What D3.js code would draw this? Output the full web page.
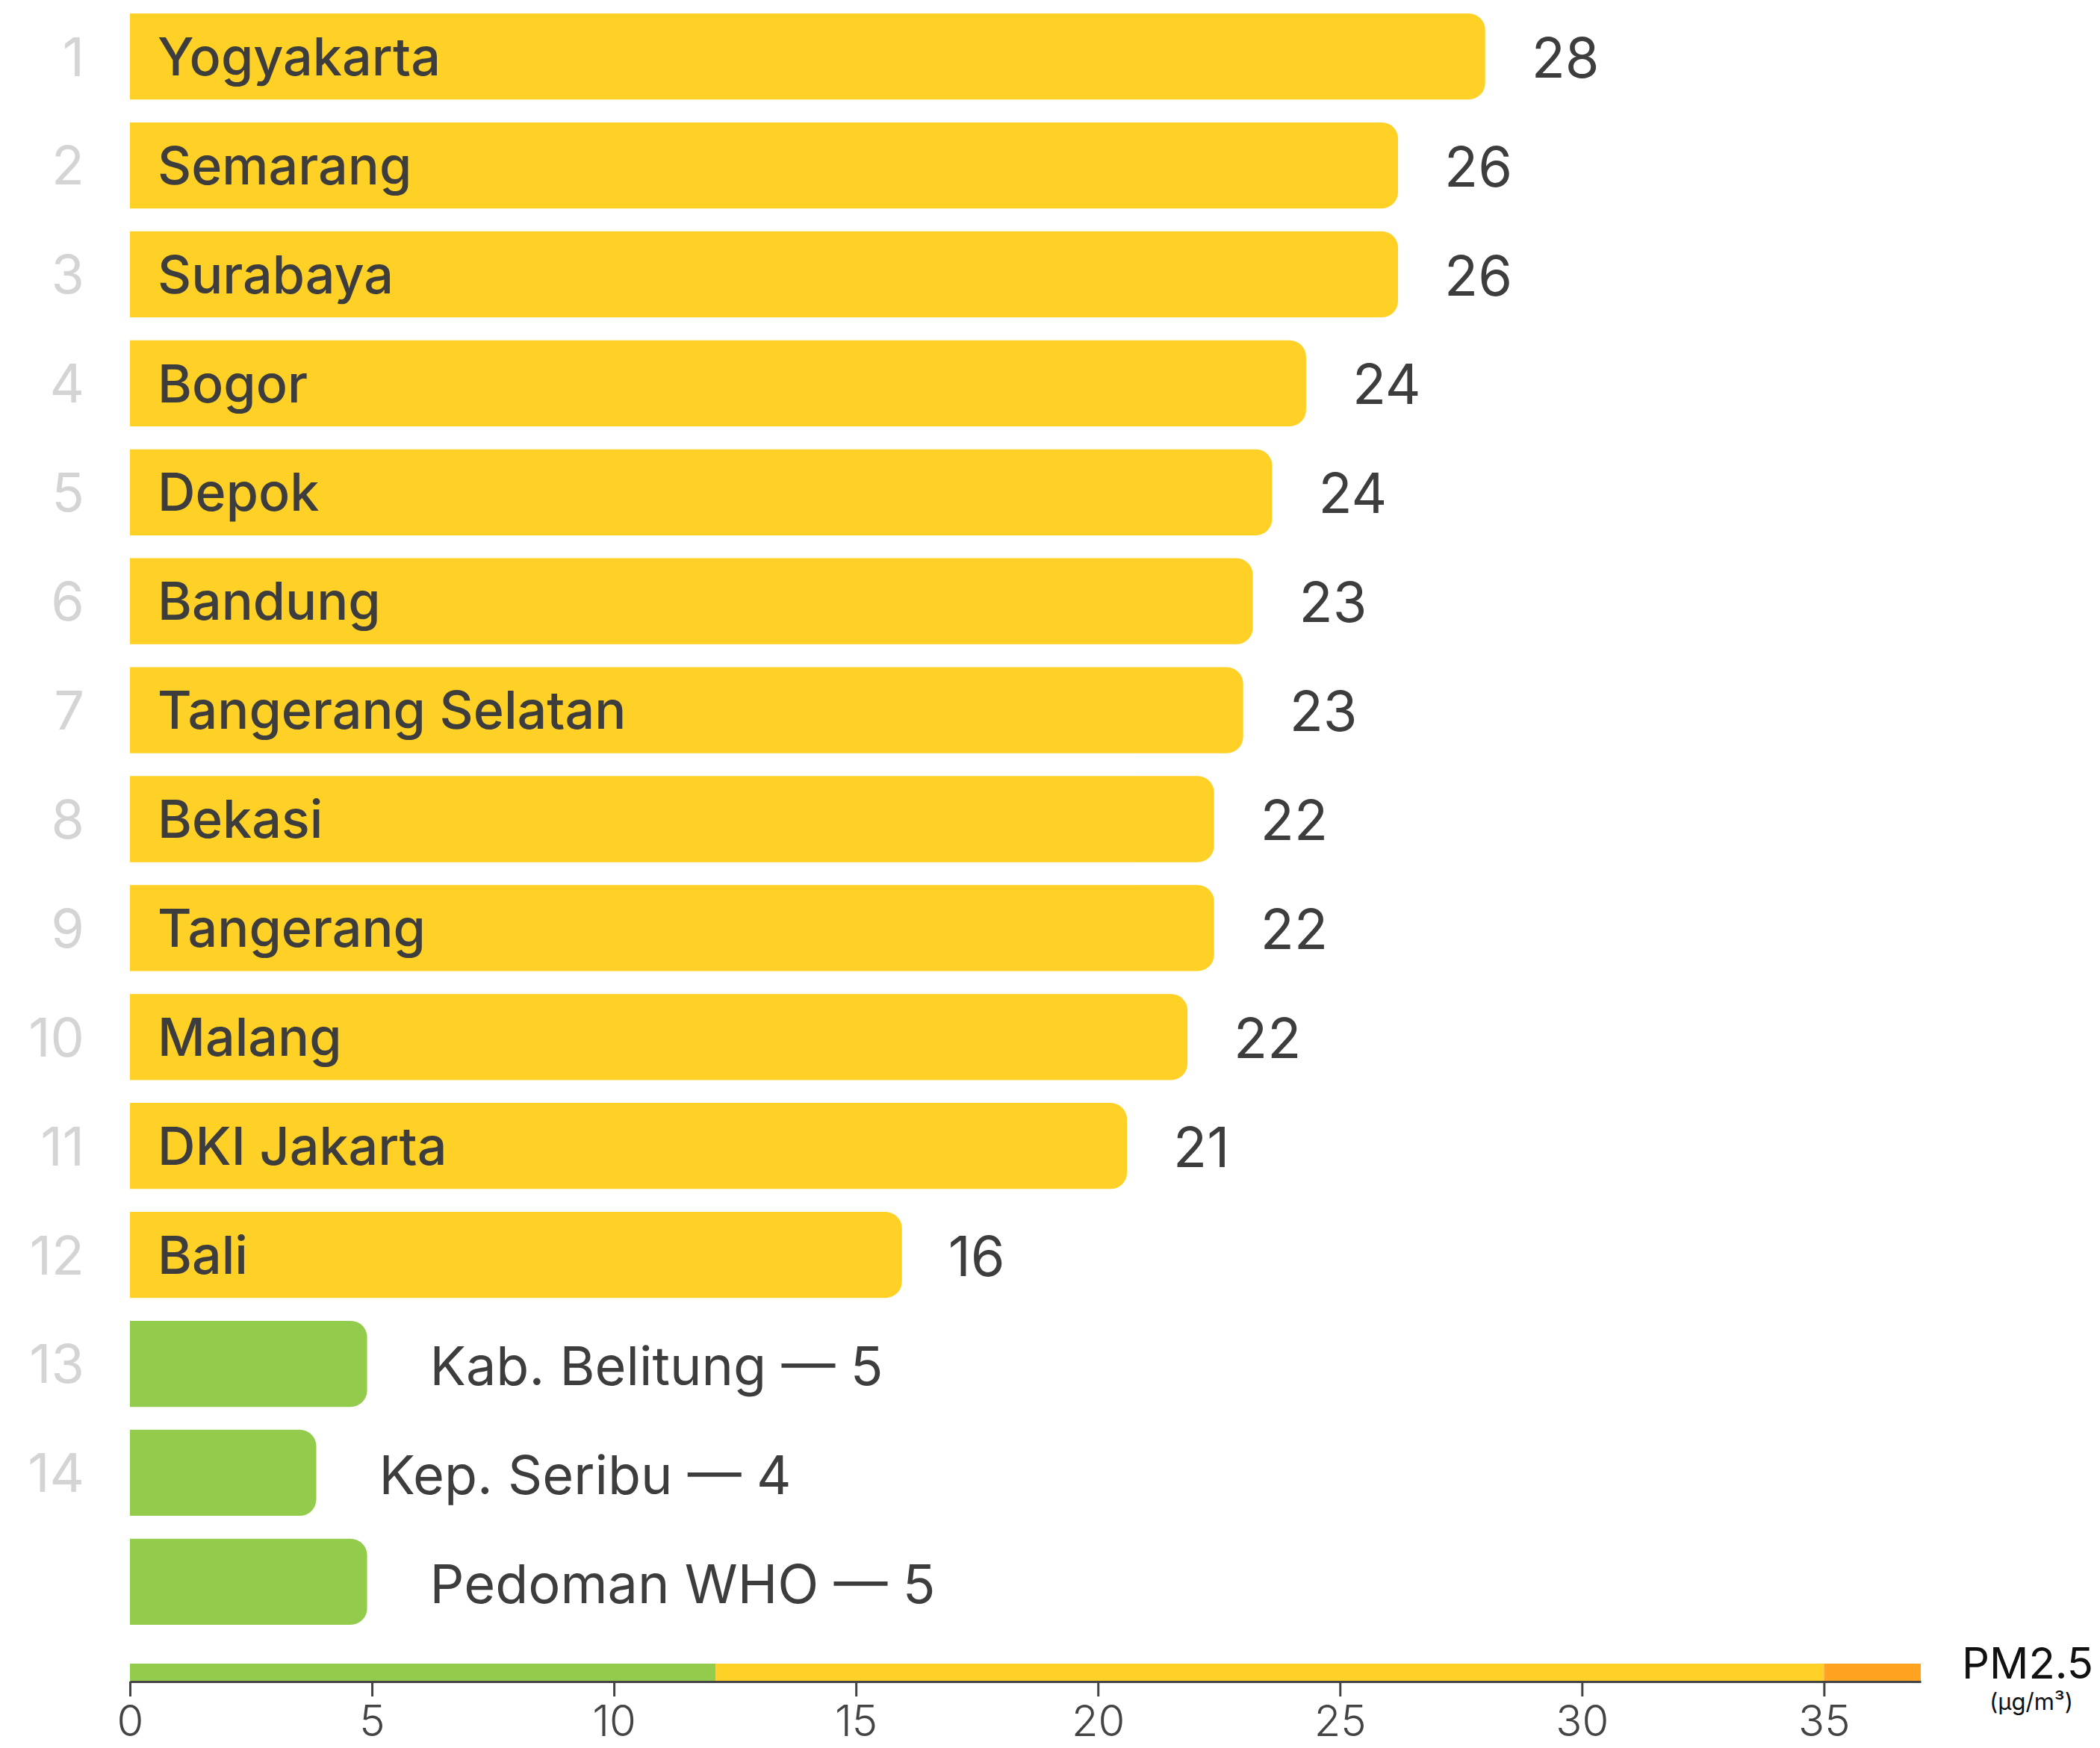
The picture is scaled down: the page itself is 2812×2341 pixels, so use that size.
<!DOCTYPE html>
<html>
<head>
<meta charset="utf-8">
<title>PM2.5 kota Indonesia</title>
<style>
  body { margin: 0; background: #fff; }
  svg { display: block; }
  .rank { fill: #d4d4d4; font-family: Inter, 'Noto Sans', sans-serif; font-weight: 400; }
  .name { fill: #3d3d3d; font-family: Inter, 'Noto Sans', sans-serif; font-weight: 500; }
  .val { fill: #3d3d3d; font-family: Inter, 'Noto Sans', sans-serif; font-weight: 400; }
  .tick text { fill: #444; font-family: Inter, 'Noto Sans', sans-serif; font-weight: 300; }
</style>
</head>
<body>
<div id="chart"></div>
<script src="https://cdn.jsdelivr.net/npm/d3@7"></script>
<script>
// data
var cities = ['Yogyakarta', 'Semarang', 'Surabaya', 'Bogor', 'Depok', 'Bandung',
  'Tangerang Selatan', 'Bekasi', 'Tangerang', 'Malang', 'DKI Jakarta', 'Bali',
  'Kab. Belitung', 'Kep. Seribu', 'Pedoman WHO'];
var pm25 = [28.0, 26.2, 26.2, 24.3, 23.6, 23.2, 23.0, 22.4, 22.4, 21.85, 20.6, 15.95, 4.9, 3.85, 4.9];
var shown = [28, 26, 26, 24, 24, 23, 23, 22, 22, 22, 21, 16, 5, 4, 5];
var ranks = ['1', '2', '3', '4', '5', '6', '7', '8', '9', '10', '11', '12', '13', '14', ''];
var tickValues = [0, 5, 10, 15, 20, 25, 30, 35];
var bandStops = [0, 12.1, 35, 37];
var bandColors = ['#93cc4d', '#ffd025', '#ffa320'];

var W = 2812, H = 2341;
var fs = 70;

var svg = d3.select('#chart').append('svg')
  .attr('width', W).attr('height', H);

var x = d3.scaleLinear().domain([0, 37]).range([174, 2572]);
var y = d3.scaleBand().domain(d3.range(cities.length))
  .range([18, 2176]).paddingInner(0.21).paddingOuter(0);

var colorOf = d3.scaleThreshold().domain(bandStops.slice(1, 3)).range(bandColors);

// bar with rounded right corners only
function barPath(x0, y0, w, h, r) {
  r = Math.min(r, w, h / 2);
  return 'M' + x0 + ',' + y0 +
    'H' + (x0 + w - r) +
    'A' + r + ',' + r + ' 0 0 1 ' + (x0 + w) + ',' + (y0 + r) +
    'V' + (y0 + h - r) +
    'A' + r + ',' + r + ' 0 0 1 ' + (x0 + w - r) + ',' + (y0 + h) +
    'H' + x0 + 'Z';
}

var rows = svg.selectAll('.row')
  .data(cities)
  .enter().append('g')
  .attr('class', 'row')
  .attr('transform', function(d, i) { return 'translate(0,' + y(i) + ')'; });

rows.append('path')
  .attr('d', function(d, i) { return barPath(x(0), 0, x(pm25[i]) - x(0), y.bandwidth(), 22); })
  .attr('fill', function(d, i) { return colorOf(pm25[i]); });

rows.append('text')
  .attr('class', 'rank')
  .attr('x', 113)
  .attr('y', y.bandwidth() / 2)
  .attr('dy', '0.36em')
  .attr('text-anchor', 'end')
  .style('font-size', '72px')
  .text(function(d, i) { return ranks[i]; });

// names inside the long bars
rows.filter(function(d, i) { return pm25[i] >= 10; })
  .append('text')
  .attr('class', 'name')
  .attr('x', x(0) + 37)
  .attr('y', y.bandwidth() / 2)
  .attr('dy', '0.36em')
  .style('font-size', fs + 'px')
  .text(function(d) { return d; });

rows.filter(function(d, i) { return pm25[i] >= 10; })
  .append('text')
  .attr('class', 'val')
  .attr('x', function(d) { return x(pm25[cities.indexOf(d)]) + 62; })
  .attr('y', y.bandwidth() / 2)
  .attr('dy', '0.38em')
  .style('font-size', '74px')
  .text(function(d) { return shown[cities.indexOf(d)]; });

// short bars: label outside
rows.filter(function(d, i) { return pm25[i] < 10; })
  .append('text')
  .attr('class', 'val')
  .attr('x', function(d) { return x(pm25[cities.indexOf(d)]) + 84; })
  .attr('y', y.bandwidth() / 2)
  .attr('dy', '0.4em')
  .style('font-size', '72px')
  .text(function(d) { return d + ' \u2014 ' + shown[cities.indexOf(d)]; });

// colour band above the axis
var bandTop = 2228, axisY = 2252;
svg.selectAll('.band')
  .data(bandColors)
  .enter().append('rect')
  .attr('class', 'band')
  .attr('x', function(d, i) { return x(bandStops[i]); })
  .attr('y', bandTop)
  .attr('width', function(d, i) { return x(bandStops[i + 1]) - x(bandStops[i]); })
  .attr('height', axisY - bandTop)
  .attr('fill', function(d) { return d; });

var axis = svg.append('g')
  .attr('transform', 'translate(0,' + axisY + ')')
  .call(d3.axisBottom(x).tickValues(tickValues).tickSize(20).tickPadding(12).tickSizeOuter(0));
axis.select('.domain').attr('stroke', '#444').attr('stroke-width', 3);
axis.selectAll('.tick line').attr('stroke', '#444').attr('stroke-width', 3);
axis.selectAll('.tick text').style('font-size', '58px').attr('fill', '#444');

svg.append('text')
  .attr('x', 2803).attr('y', 2248)
  .attr('text-anchor', 'end')
  .style('font-family', "Inter, 'Noto Sans', sans-serif")
  .style('font-size', '58px')
  .attr('fill', '#111')
  .text('PM2.5');

svg.append('text')
  .attr('x', 2720).attr('y', 2290)
  .attr('text-anchor', 'middle')
  .style('font-family', "Inter, 'Noto Sans', sans-serif")
  .style('font-size', '31px')
  .attr('fill', '#111')
  .text('(\u00b5g/m\u00b3)');
</script>
</body>
</html>
